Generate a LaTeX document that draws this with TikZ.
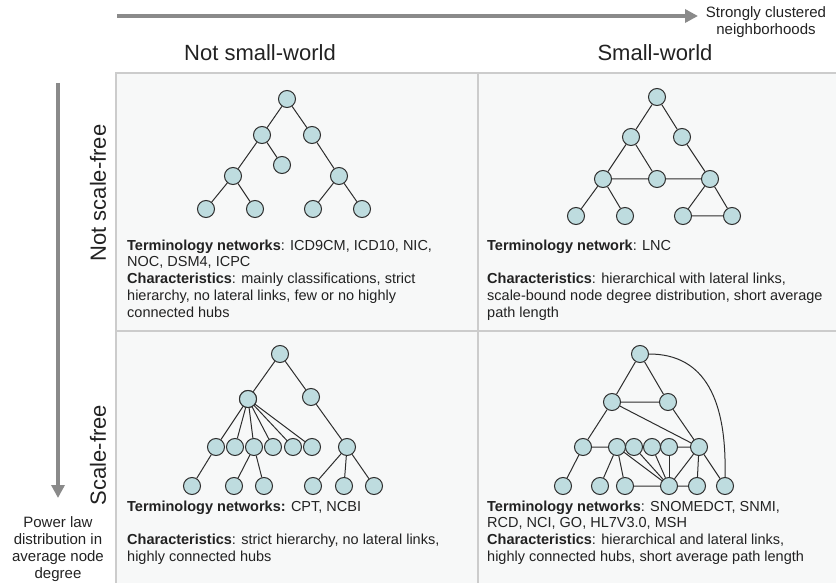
\documentclass[tikz,border=0pt]{standalone}
\usepackage{fontspec}
\setmainfont{Liberation Sans}
\usetikzlibrary{arrows.meta}
\definecolor{ink}{HTML}{222222}
\definecolor{rule}{HTML}{CCCCCC}
\definecolor{cellbg}{HTML}{F7F8F8}
\definecolor{axisgray}{HTML}{8A8A8A}
\definecolor{vfill}{HTML}{BEDCDF}
\definecolor{vline}{HTML}{2E2E2E}
\tikzset{vtx/.style={circle,draw=vline,fill=vfill,line width=1pt,minimum size=17pt,inner sep=0pt},lnk/.style={draw=vline,line width=1pt},axis/.style={-{Triangle[length=13pt,width=13pt]},line width=4pt,draw=axisgray},head/.style={font=\fontsize{22}{26}\selectfont,text=ink,inner sep=0pt},note/.style={font=\fontsize{15}{17}\selectfont,text=ink,align=center,inner sep=0pt},txt/.style={font=\fontsize{14.5}{16.7}\selectfont,text=ink,align=left,anchor=north west,inner sep=0pt}}

\begin{document}
\begin{tikzpicture}[x=1pt,y=-1pt]
\useasboundingbox (0,0) rectangle (836,583);
% grid of the four cells
\fill[cellbg] (116,73) rectangle (836,583);
\draw[rule,line width=2.5pt] (116,583)--(116,73)--(836,73) (478,73)--(478,583) (116,331)--(836,331);
% axes
\coordinate (ax0) at (117,16);\coordinate (ax1) at (698,16);
\coordinate (ay0) at (58,83);\coordinate (ay1) at (58,498);
\draw[axis](ax0)--(ax1);\draw[axis](ay0)--(ay1);
\node[note] (cl) at (766,22.5) {Strongly clustered\\neighborhoods};
\node[note,anchor=north] (pl) at (58,516) {Power law\\distribution in\\average node\\degree};
\node[head] (nsw) at (260,53) {Not small-world};
\node[head] (sw) at (655,53) {Small-world};
\node[head,rotate=90] (nsf) at (98,193) {Not scale-free};
\node[head,rotate=90] (sf) at (98,455) {Scale-free};
% not small-world, not scale-free
\foreach \n/\x/\y in {a0/287/99,a1/262/135,a2/312/135,a3/233/176,a4/282/165,a5/339/176,a6/206/209,a7/255/209,a8/313/209,a9/362/209}
  \node[vtx] (\n) at (\x,\y) {};
\draw[lnk] (a0)--(a1) (a0)--(a2) (a1)--(a3) (a1)--(a4) (a2)--(a5) (a3)--(a6) (a3)--(a7) (a5)--(a8) (a5)--(a9);
% small-world, not scale-free
\foreach \n/\x/\y in {b0/657/97,b1/631/137,b2/682/137,b3/603/179,b4/657/179,b5/710/179,b6/576/216,b7/625/216,b8/683/216,b9/732/216}
  \node[vtx] (\n) at (\x,\y) {};
\draw[lnk] (b0)--(b1) (b0)--(b2) (b1)--(b3) (b1)--(b4) (b2)--(b5) (b3)--(b4) (b4)--(b5) (b3)--(b6) (b3)--(b7) (b5)--(b8) (b5)--(b9) (b8)--(b9);
% not small-world, scale-free
\foreach \n/\x/\y in {c0/280/354,c1/248/399,c2/311/397,c3/216/447,c4/235/447,c5/254/447,c6/273/447,c7/293/447,c8/312/447,c9/347/447,c10/192/486,c11/234/486,c12/264/486,c13/313/486,c14/344/486,c15/374/486}
  \node[vtx] (\n) at (\x,\y) {};
\draw[lnk] (c0)--(c1) (c0)--(c2) (c2)--(c9) (c3)--(c10) (c5)--(c11) (c5)--(c12) (c9)--(c13) (c9)--(c14) (c9)--(c15);
\foreach \k in {3,...,8} \draw[lnk] (c1.center)--(c\k);
\node[vtx] at (c1) {};
% small-world, scale-free
\foreach \n/\x/\y in {d0/640/354,d1/612/402,d2/668/402,d3/583/447,d4/617/447,d5/634/447,d6/652/447,d7/669/447,d8/699/447,d9/563/486,d10/600/486,d11/625/486,d12/669/486,d13/697/486,d14/725/486}
  \node[vtx] (\n) at (\x,\y) {};
\draw[lnk] (d0)--(d1) (d0)--(d2) (d1)--(d2) (d1)--(d3) (d1)--(d8) (d2)--(d8) (d3)--(d4) (d7)--(d8) (d3)--(d9) (d4)--(d10) (d4)--(d11) (d11)--(d12) (d12)--(d13) (d8)--(d13) (d8)--(d14);
\foreach \k in {4,...,8} \draw[lnk] (d\k)--(d12);
\draw[lnk] (d0.east) .. controls (705,354) and (727,400) .. (d14.north);
% cell texts
\node[txt] (ta) at (127,239.5) {\textbf{Terminology networks}: ICD9CM, ICD10, NIC,\\NOC, DSM4, ICPC\\\textbf{Characteristics}: mainly classifications, strict\\hierarchy, no lateral links, few or no highly\\connected hubs};
\node[txt] (tb) at (487,239.5) {\textbf{Terminology network}: LNC\\[16.7pt]\textbf{Characteristics}: hierarchical with lateral links,\\scale-bound node degree distribution, short average\\path length};
\node[txt] (tc) at (127,500.5) {\textbf{Terminology networks:} CPT, NCBI\\[16.7pt]\textbf{Characteristics}: strict hierarchy, no lateral links,\\highly connected hubs};
\node[txt] (td) at (487,500.5) {\textbf{Terminology networks}: SNOMEDCT, SNMI,\\RCD, NCI, GO, HL7V3.0, MSH\\\textbf{Characteristics}: hierarchical and lateral links,\\highly connected hubs, short average path length};
\end{tikzpicture}
\end{document}
